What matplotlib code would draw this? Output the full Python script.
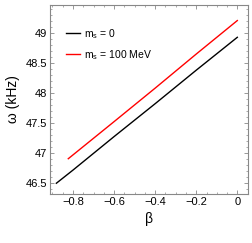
import numpy as np
import matplotlib
matplotlib.use('Agg')
import matplotlib.pyplot as plt
from matplotlib.ticker import MultipleLocator

# ───────────── data ─────────────
beta_m0    = [-0.881, -0.8, -0.6, -0.4, -0.2, 0.0]
omega_m0   = [46.49, 46.71, 47.27, 47.82, 48.38, 48.93]
beta_m100  = [-0.823, -0.6, -0.4, -0.2, 0.0]
omega_m100 = [46.90, 47.52, 48.08, 48.65, 49.21]
labels = [r'm$_{\rm s}$ = 0', r'm$_{\rm s}$ = 100 MeV']

plt.rcParams.update({'font.family': 'Liberation Sans', 'font.size': 8,
                     'mathtext.fontset': 'custom', 'mathtext.rm': 'Liberation Sans'})

fig = plt.figure(figsize=(2.52, 2.43), dpi=100)
ax = fig.add_axes([50/252, 1-194/243, 198/252, 189/243])

ax.plot(beta_m0, omega_m0, color='black', lw=1.0, label=labels[0])
ax.plot(beta_m100, omega_m100, color='red', lw=1.0, label=labels[1])

ax.set_xlim(-0.912, 0.052)
ax.set_ylim(46.31, 49.47)
ax.xaxis.set_major_locator(MultipleLocator(0.2))
ax.xaxis.set_minor_locator(MultipleLocator(0.05))
ax.yaxis.set_major_locator(MultipleLocator(0.5))
ax.yaxis.set_minor_locator(MultipleLocator(0.1))
ax.xaxis.set_major_formatter(plt.FuncFormatter(
    lambda v, p: '0' if abs(v) < 1e-9 else f'{v:.1f}'.replace('-', '\u2212')))
ax.yaxis.set_major_formatter(plt.FuncFormatter(lambda v, p: f'{v:g}'))

ax.tick_params(which='both', direction='in', top=True, right=True,
               color='#888888', labelsize=8, pad=2)
ax.tick_params(which='major', length=3, width=0.6)
ax.tick_params(which='minor', length=1.5, width=0.5)
for s in ax.spines.values():
    s.set_color('#888888')
    s.set_linewidth(0.8)

ax.set_xlabel('β', fontsize=10, labelpad=4)
ax.set_ylabel('ω (kHz)', fontsize=10, labelpad=4)

ax.legend(loc='upper left', bbox_to_anchor=(0.08, 0.885), frameon=False,
          fontsize=7.5, handlelength=1.35, handletextpad=0.4, labelspacing=0.7,
          borderpad=0, borderaxespad=0)

fig.savefig('out.png', dpi=100)
